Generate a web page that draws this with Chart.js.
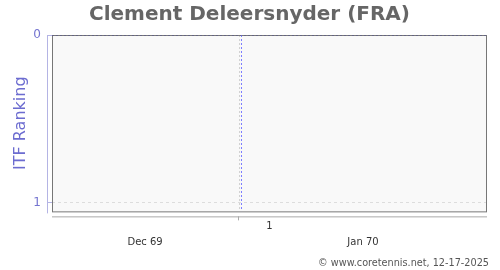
<!DOCTYPE html>
<html>
<head>
<meta charset="utf-8">
<script src="https://cdn.jsdelivr.net/npm/chart.js@4/dist/chart.umd.min.js"></script>
<style>
  html, body { margin: 0; padding: 0; background: #ffffff; }
  #wrap { width: 500px; height: 270px; }
</style>
</head>
<body>
<div id="wrap"><canvas id="c" width="500" height="270"></canvas></div>
<script>
// ---- data ----
const chartTitle = 'Clement Deleersnyder (FRA)';
const yAxisTitle = 'ITF Ranking';
const footerText = '\u00A9 www.coretennis.net, 12-17-2025';
const xMin = 0;
const xMax = 100;
const rankTicks = [0, 1];
const rankMin = 0;
const rankMax = 1.05;
const weekTickValues = [43];
const weekLabelValues = [50];
const weekLabels = ['1'];
const monthValues = [21.4, 71.5];
const monthLabels = ['Dec 69', 'Jan 70'];
const rankSeriesX = [xMin, xMax];
const rankSeriesY = [0, 0];
const markerX = 43.56;

const FONT = "'DejaVu Sans', sans-serif";

const framePlugin = {
  id: 'frame',
  beforeDraw(chart) {
    const { ctx, chartArea: a } = chart;
    ctx.save();
    ctx.fillStyle = '#f9f9f9';
    ctx.fillRect(a.left, a.top, a.right - a.left, a.bottom - a.top);
    ctx.restore();
  },
  beforeDatasetsDraw(chart) {
    const { ctx, chartArea: a, scales } = chart;
    ctx.save();
    ctx.lineWidth = 1;
    ctx.strokeStyle = '#777777';
    ctx.strokeRect(a.left + 0.5, a.top + 0.5, a.right - a.left - 1, a.bottom - a.top);
    ctx.strokeStyle = '#b4b4e4';
    ctx.beginPath();
    ctx.moveTo(a.left - 4.5, a.top);
    ctx.lineTo(a.left - 4.5, a.bottom + 2);
    ctx.stroke();
    ctx.strokeStyle = '#aaaaaa';
    const yx = a.bottom + 5.5;
    ctx.beginPath();
    ctx.moveTo(a.left, yx);
    ctx.lineTo(a.right, yx);
    ctx.stroke();
    weekTickValues.forEach(v => {
      const px = Math.round(scales.x.getPixelForValue(v)) - 0.5;
      ctx.beginPath();
      ctx.moveTo(px, a.bottom + 5);
      ctx.lineTo(px, a.bottom + 9);
      ctx.stroke();
    });
    ctx.restore();
  }
};

new Chart(document.getElementById('c'), {
  type: 'scatter',
  data: {
    datasets: [
      {
        label: 'Ranking',
        data: rankSeriesX.map((x, i) => ({ x: x, y: rankSeriesY[i] })),
        showLine: true,
        borderColor: '#50508f',
        borderWidth: 1,
        borderDash: [2, 2],
        pointRadius: 0,
        xAxisID: 'x',
        yAxisID: 'y'
      },
      {
        label: 'Marker',
        data: [{ x: markerX, y: rankMin }, { x: markerX, y: rankMax }],
        showLine: true,
        borderColor: '#7c7cff',
        borderWidth: 1,
        borderDash: [2, 2],
        pointRadius: 0,
        xAxisID: 'x',
        yAxisID: 'y'
      }
    ]
  },
  options: {
    responsive: false,
    animation: false,
    devicePixelRatio: 1,
    layout: { padding: { left: 10, right: 11, top: 0, bottom: 0 } },
    plugins: {
      legend: { display: false },
      tooltip: { enabled: false },
      title: {
        display: true,
        text: chartTitle,
        color: '#666666',
        font: { family: FONT, size: 20, weight: 'bold' },
        padding: { top: 3, bottom: 8 }
      },
      subtitle: {
        display: true,
        text: footerText,
        position: 'bottom',
        align: 'end',
        color: '#555555',
        font: { family: FONT, size: 9.7 },
        padding: { top: 2, bottom: 1 }
      }
    },
    scales: {
      x: {
        type: 'linear',
        position: 'bottom',
        weight: 0,
        min: xMin,
        max: xMax,
        afterBuildTicks: s => {
          s.ticks = weekTickValues.map(v => ({ value: v })).concat(weekLabelValues.map(v => ({ value: v })));
        },
        afterFit: s => { s.height = 20; },
        border: { display: false, dash: [2, 2] },
        grid: {
          drawTicks: false,
          color: c => (c.tick && weekTickValues.includes(c.tick.value)) ? '#d2d2d2' : 'rgba(0,0,0,0)'
        },
        ticks: {
          autoSkip: false,
          maxRotation: 0,
          padding: 9,
          color: '#333333',
          font: { family: FONT, size: 10 },
          callback: v => {
            const i = weekLabelValues.indexOf(v);
            return i >= 0 ? weekLabels[i] : '';
          }
        }
      },
      xm: {
        type: 'linear',
        position: 'bottom',
        weight: 1,
        min: xMin,
        max: xMax,
        afterBuildTicks: s => { s.ticks = monthValues.map(v => ({ value: v })); },
        afterFit: s => { s.height = 24; },
        border: { display: false },
        grid: { display: false },
        ticks: {
          autoSkip: false,
          maxRotation: 0,
          padding: -3,
          color: '#333333',
          font: { family: FONT, size: 10 },
          callback: v => {
            const i = monthValues.indexOf(v);
            return i >= 0 ? monthLabels[i] : '';
          }
        }
      },
      y: {
        type: 'linear',
        position: 'left',
        reverse: true,
        min: rankMin,
        max: rankMax,
        afterBuildTicks: s => { s.ticks = rankTicks.map(v => ({ value: v })); },
        afterFit: s => { s.width = 42; },
        border: { display: false, dash: [3, 3] },
        grid: {
          tickLength: 4,
          tickColor: '#b4b4e4',
          color: c => (c.tick && c.tick.value === rankTicks[rankTicks.length - 1]) ? '#dddddd' : 'rgba(0,0,0,0)'
        },
        ticks: {
          padding: 7,
          color: '#7474d0',
          font: { family: FONT, size: 12 },
          callback: v => String(v)
        },
        title: {
          display: true,
          text: yAxisTitle,
          color: '#6c6cd0',
          font: { family: FONT, size: 16 },
          padding: { top: 1, bottom: 0 }
        }
      },
      yr: {
        type: 'linear',
        position: 'right',
        display: true,
        min: rankMin,
        max: rankMax,
        afterFit: s => { s.width = 2; },
        border: { display: false },
        grid: { display: false },
        ticks: { display: false }
      }
    }
  },
  plugins: [framePlugin]
});
</script>
</body>
</html>
